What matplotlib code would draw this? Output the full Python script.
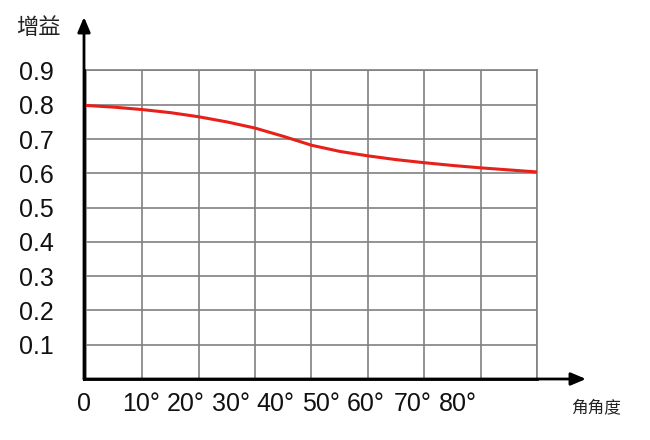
import matplotlib
matplotlib.use("Agg")
import matplotlib.pyplot as plt

plt.rcParams['font.family'] = ['Liberation Sans', 'Noto Sans CJK SC', 'DejaVu Sans']

# data
angles = [0, 5, 10, 15, 20, 25, 30, 35, 40, 45, 50, 55, 60, 65, 70, 75, 80]
gain = [0.798, 0.793, 0.786, 0.777, 0.765, 0.750, 0.732, 0.708, 0.682,
        0.664, 0.651, 0.640, 0.631, 0.623, 0.616, 0.610, 0.604]
grid_x = [0, 10, 20, 30, 40, 50, 60, 70, 80]
x_label_pos = [-0.35, 9.8, 17.6, 25.7, 33.6, 41.6, 49.6, 57.9, 66.0]
x_labels = ['0', '10°', '20°', '30°', '40°', '50°', '60°', '70°', '80°']
y_ticks = [0.1, 0.2, 0.3, 0.4, 0.5, 0.6, 0.7, 0.8, 0.9]
y_labels = ['0.1', '0.2', '0.3', '0.4', '0.5', '0.6', '0.7', '0.8', '0.9']

W, H = 650, 440
fig = plt.figure(figsize=(6.5, 4.4), dpi=100)
L, R, B, T = 84, 537, 379, 70.5
ax = fig.add_axes([L / W, 1 - B / H, (R - L) / W, (B - T) / H])

ax.plot(angles, gain, color='#e8201a', lw=2.2, solid_capstyle='round', zorder=3)

ax.set_xlim(0, 80)
ax.set_ylim(0, 0.9)
ax.set_xticks(grid_x, labels=[''] * len(grid_x))
ax.set_xticks(x_label_pos, labels=x_labels, minor=True)
ax.set_yticks(y_ticks, labels=y_labels)
ax.grid(True, which='major', color='#808080', lw=1.2)
ax.tick_params(axis='both', which='both', length=0, labelcolor='#111111')
ax.tick_params(axis='x', which='minor', labelsize=18, pad=9)
ax.tick_params(axis='y', labelsize=18, pad=22)

for s in ['top', 'right']:
    ax.spines[s].set_color('#808080')
    ax.spines[s].set_linewidth(1.2)
for s in ['left', 'bottom']:
    ax.spines[s].set_color('black')
    ax.spines[s].set_linewidth(2)
    ax.spines[s].set_zorder(4)

# axis arrows
def fx(px):
    return px / W
def fy(py):
    return 1 - py / H

style = '-|>,head_length=0.9,head_width=0.38'
fig.add_artist(matplotlib.patches.FancyArrowPatch(
    (fx(L), fy(B)), (fx(L), fy(17)), transform=fig.transFigure,
    arrowstyle=style, mutation_scale=10, color='black', lw=2,
    shrinkA=0, shrinkB=0))
fig.add_artist(matplotlib.patches.FancyArrowPatch(
    (fx(L), fy(B)), (fx(586), fy(B)), transform=fig.transFigure,
    arrowstyle=style, mutation_scale=10, color='black', lw=2,
    shrinkA=0, shrinkB=0))

fig.text(fx(16), fy(28), '增益', family=['Noto Sans CJK SC'], fontsize=16,
         ha='left', va='center', color='#222222')
fig.text(fx(571), fy(408), '角角度', family=['Noto Sans CJK SC'], fontsize=12,
         ha='left', va='center', color='#222222')

fig.savefig('out.png', dpi=100)
